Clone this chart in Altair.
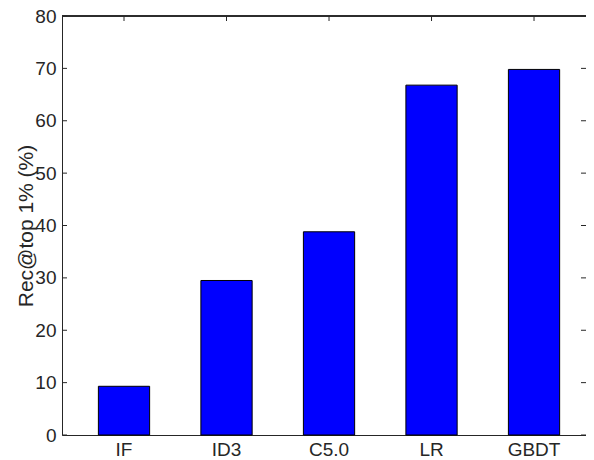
import altair as alt
import pandas as pd

methods = ["IF", "ID3", "C5.0", "LR", "GBDT"]
recall = [9.3, 29.5, 38.8, 66.8, 69.8]
y_ticks = [0, 10, 20, 30, 40, 50, 60, 70, 80]

df = pd.DataFrame({"method": methods, "recall": recall})
ticks_df = pd.DataFrame({"recall": y_ticks})

W, H = 524, 419
FONT = "Liberation Sans"
AX = "#262626"
FS = 19

xscale = alt.Scale(domain=methods, paddingInner=0.5, paddingOuter=0.306, align=0.58)
yscale = alt.Scale(domain=[0, 80], nice=False, zero=True)

xaxis = alt.Axis(title=None, labelAngle=0, ticks=False, tickSize=0,
                 labelPadding=5, labelFontSize=FS, labelFont=FONT,
                 labelColor=AX, domainColor=AX, domainWidth=1, grid=False)
yaxis = alt.Axis(values=y_ticks, title="Rec@top 1% (%)", grid=False,
                 ticks=False, tickSize=0, labelPadding=6,
                 labelFontSize=FS, labelFont=FONT, labelColor=AX,
                 titleFontSize=21, titleFont=FONT, titleColor=AX,
                 titleFontWeight="normal", titleAngle=270,
                 titleX=-30, titleY=H / 2, titleAlign="center",
                 titleBaseline="alphabetic",
                 domainColor=AX, domainWidth=1)

X = alt.X("method:N", scale=xscale, sort=methods, axis=xaxis)
Y = alt.Y("recall:Q", scale=yscale, axis=yaxis)

bars = alt.Chart(df).mark_bar(color="#0000FF", stroke="black", strokeWidth=1).encode(
    x=X, y=Y,
)

left_ticks = alt.Chart(ticks_df).mark_rule(color=AX, strokeWidth=1).encode(
    y=Y, x=alt.value(0), x2=alt.value(5),
)
right_ticks = alt.Chart(ticks_df).mark_rule(color=AX, strokeWidth=1).encode(
    y=Y, x=alt.value(W - 5), x2=alt.value(W),
)
top_ticks = alt.Chart(df).mark_rule(color=AX, strokeWidth=1).encode(
    x=X, y=alt.value(0), y2=alt.value(5),
)
top_line = alt.Chart(df).mark_rule(color=AX, strokeWidth=1).encode(
    x=alt.value(0), x2=alt.value(W), y=alt.value(0),
)

chart = alt.layer(bars, left_ticks, right_ticks, top_ticks, top_line).properties(
    width=W, height=H,
    autosize=alt.AutoSizeParams(type="none"),
    padding={"left": 54, "top": 8, "right": 0, "bottom": 25},
    background="white",
).configure_view(stroke=None)

chart.save("out.html", embed_options={"renderer": "svg", "actions": False})
